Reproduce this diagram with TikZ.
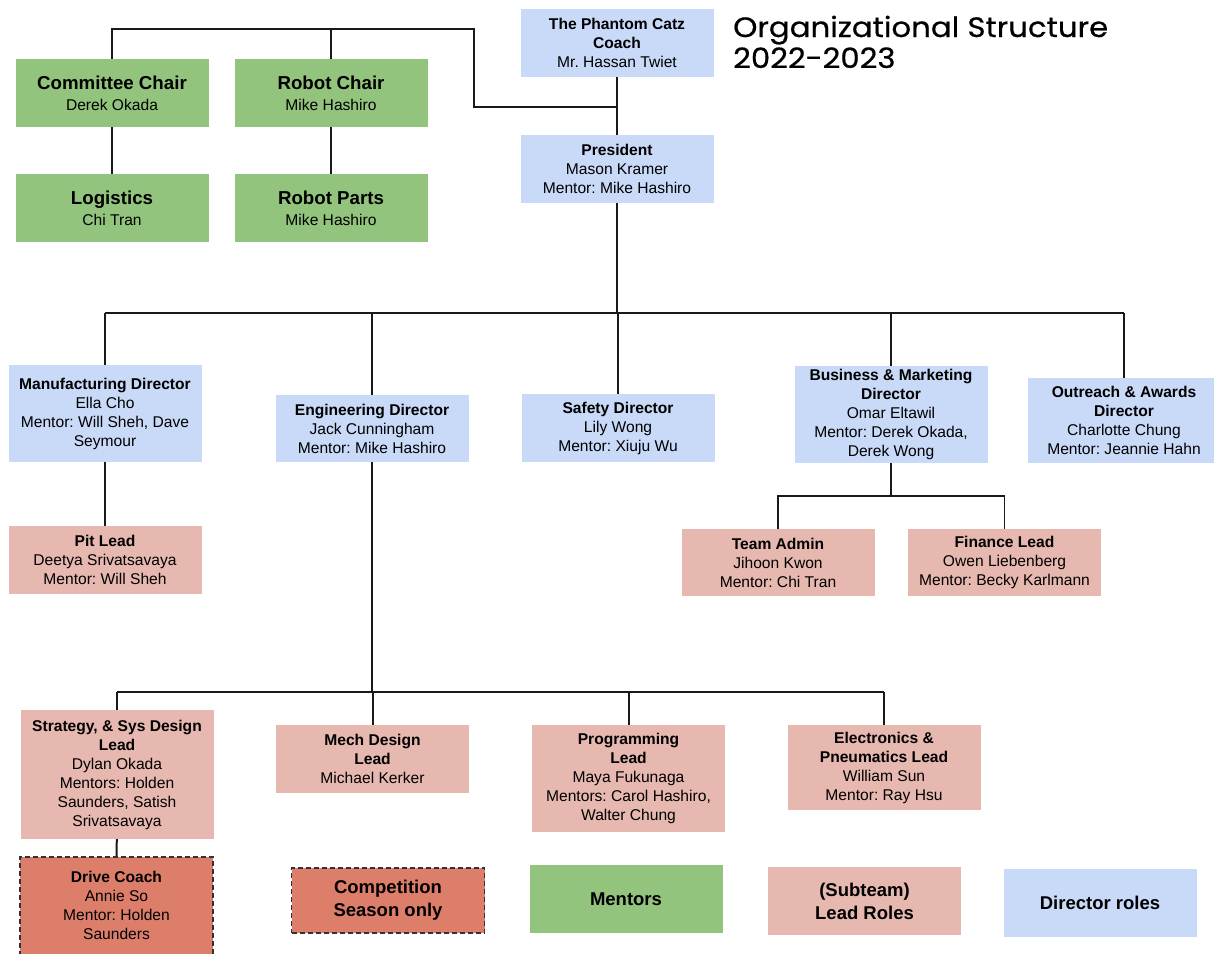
\documentclass[tikz,border=0pt]{standalone}
\usepackage{fontspec}
\setmainfont{Liberation Sans}
\newfontfamily\titlefont{Poppins}[FakeStretch=1.1, FakeBold=0.6]
\frenchspacing

\definecolor{dirblue}{HTML}{C9DAF8}
\definecolor{mentorgreen}{HTML}{93C47D}
\definecolor{leadred}{HTML}{E6B8AF}
\definecolor{seasonred}{HTML}{DD7E6B}

\begin{document}
\begin{tikzpicture}[x=1pt, y=-1pt,
    box/.style={rectangle, minimum width=193pt, inner sep=0pt, align=center,
        font=\fontsize{15.6}{19}\selectfont},
    dirbox/.style={box, fill=dirblue},
    leadbox/.style={box, fill=leadred},
    mentorbox/.style={box, fill=mentorgreen, minimum height=68pt,
        font=\fontsize{15.6}{21}\selectfont},
    seasonbox/.style={box, fill=seasonred, draw=black!80, line width=1.3pt,
        dash pattern=on 5pt off 3pt},
    keybox/.style={box, minimum height=68pt,
        font=\fontsize{18.5}{23}\selectfont\bfseries},
    link/.style={draw=black!90, line width=2pt},
    thinlink/.style={draw=black!90, line width=1.4pt}]

    \useasboundingbox (0,0) rectangle (1214,953);
    \fill[white] (0,0) rectangle (1214,953);

    % --- Title ---
    \node[anchor=base west, inner sep=0pt, font=\titlefont\fontsize{28}{31}\selectfont]
        (title1) at (733,37) {Organizational Structure};
    \node[anchor=base west, inner sep=0pt, font=\titlefont\fontsize{28}{31}\selectfont]
        (title2) at (733,68) {2022-2023};

    % --- Coach and president ---
    \node[dirbox, minimum height=68pt] (coach) at (617,43)
        {\textbf{The Phantom Catz}\\\textbf{Coach}\\Mr. Hassan Twiet};
    \node[dirbox, minimum height=68pt] (pres) at (617,169)
        {\textbf{President}\\Mason Kramer\\Mentor: Mike Hashiro};

    % --- Mentor chairs ---
    \node[mentorbox] (comm) at (112,93)
        {{\fontsize{18.7}{21}\selectfont\bfseries Committee Chair}\\Derek Okada};
    \node[mentorbox] (rchair) at (331,93)
        {{\fontsize{18.7}{21}\selectfont\bfseries Robot Chair}\\Mike Hashiro};
    \node[mentorbox] (logi) at (112,208)
        {{\fontsize{18.7}{21}\selectfont\bfseries Logistics}\\Chi Tran};
    \node[mentorbox] (rparts) at (331,208)
        {{\fontsize{18.7}{21}\selectfont\bfseries Robot Parts}\\Mike Hashiro};

    % --- Directors ---
    \node[dirbox, minimum height=97pt] (manu) at (105,413.5)
        {\textbf{Manufacturing Director}\\Ella Cho\\Mentor: Will Sheh, Dave\\Seymour};
    \node[dirbox, minimum height=67pt] (eng) at (372,428.5)
        {\textbf{Engineering Director}\\Jack Cunningham\\Mentor: Mike Hashiro};
    \node[dirbox, minimum height=68pt] (safe) at (618,428)
        {\textbf{Safety Director}\\Lily Wong\\Mentor: Xiuju Wu};
    \node[dirbox, minimum height=97pt] (biz) at (891,414.5)
        {\textbf{Business \& Marketing}\\\textbf{Director}\\Omar Eltawil\\Mentor: Derek Okada,\\Derek Wong};
    \node[dirbox, minimum height=85pt] (outr) at (1124,420.5)
        {\textbf{Outreach \& Awards}\\\textbf{Director}\\Charlotte Chung\\Mentor: Jeannie Hahn};

    % --- Leads under directors ---
    \node[leadbox, minimum height=68pt] (pit) at (105,560)
        {\textbf{Pit Lead}\\Deetya Srivatsavaya\\Mentor: Will Sheh};
    \node[leadbox, minimum height=67pt] (tadmin) at (778,562.5)
        {\textbf{Team Admin}\\Jihoon Kwon\\Mentor: Chi Tran};
    \node[leadbox, minimum height=67pt] (fin) at (1004.5,562.5)
        {\textbf{Finance Lead}\\Owen Liebenberg\\Mentor: Becky Karlmann};

    % --- Engineering leads ---
    \node[leadbox, minimum height=129pt] (strat) at (117,774.5)
        {\textbf{Strategy, \& Sys Design}\\\textbf{Lead}\\Dylan Okada\\Mentors: Holden\\Saunders, Satish\\Srivatsavaya};
    \node[leadbox, minimum height=68pt] (mech) at (372.5,759)
        {\textbf{Mech Design}\\\textbf{Lead}\\Michael Kerker};
    \node[leadbox, minimum height=107pt] (prog) at (628.5,778.5)
        {\textbf{Programming}\\\textbf{Lead}\\Maya Fukunaga\\Mentors: Carol Hashiro,\\Walter Chung};
    \node[leadbox, minimum height=85pt] (elec) at (884,767.5)
        {\textbf{Electronics \&}\\\textbf{Pneumatics Lead}\\William Sun\\Mentor: Ray Hsu};
    % runs off the bottom edge
    \node[seasonbox, minimum height=104pt] (drive) at (116.5,909)
        {\textbf{Drive Coach}\\Annie So\\Mentor: Holden\\Saunders\rule[-8pt]{0pt}{0pt}};

    % --- Key ---
    \node[keybox, seasonbox, font=\fontsize{18.5}{23}\selectfont\bfseries,
        minimum height=65pt] (kseason) at (388,900.5) {Competition\\Season only};
    \node[keybox, fill=mentorgreen] (kmentor) at (626,899) {Mentors};
    \node[keybox, fill=leadred] (klead) at (864.5,901) {(Subteam)\\Lead Roles};
    \node[keybox, fill=dirblue] (kdir) at (1100,903) {Director roles};

    % --- Top of the chart ---
    \coordinate (cjoin) at (617,107);
    \coordinate (tcorner) at (474,29);
    \draw[link] (coach) -- (pres);
    \draw[link] (cjoin) -| (tcorner) -| (comm.north);
    \draw[link] (rchair.north) -- (rchair.north |- tcorner);
    \draw[link] (comm) -- (logi);
    \draw[link] (rchair) -- (rparts);

    % --- Director bus ---
    \coordinate (dbus) at (617,313);
    \draw[link] (pres) -- (dbus);
    \draw[link] (manu.north |- dbus) -- (outr.north |- dbus);
    \foreach \d in {manu,eng,safe,biz,outr}
        \draw[link] (\d.north) -- (\d.north |- dbus);
    \draw[link] (manu) -- (pit);

    % --- Business branch ---
    \coordinate (bbus) at (891,496);
    \draw[thinlink] (biz) -- (bbus);
    \draw[thinlink] (tadmin.north) |- (bbus) -| (fin.north);

    % --- Engineering bus ---
    \coordinate (ebus) at (372,692);
    \draw[link] (eng) -- (ebus);
    \draw[link] (strat.north |- ebus) -- (elec.north |- ebus);
    \foreach \l in {strat,mech,prog,elec}
        \draw[link] (\l.north) -- (\l.north |- ebus);
    \draw[link] (strat) -- (drive);

\end{tikzpicture}
\end{document}
